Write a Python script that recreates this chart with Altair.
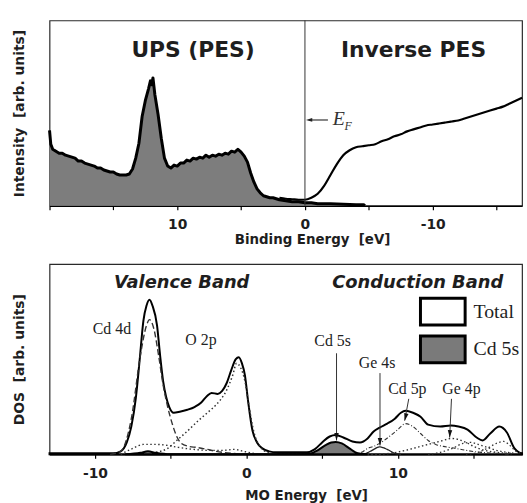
import altair as alt
import pandas as pd

# ---------------- photoemission spectra (binding energy in eV, intensity in arb. units)
ups_be = [20.0, 19.9, 19.75, 19.5, 19.25, 19.0, 18.75, 18.5, 18.25, 18.0, 17.75, 17.5, 17.25,
          17.0, 16.75, 16.5, 16.25, 16.0, 15.75, 15.5, 15.25, 15.0, 14.75, 14.5, 14.25, 14.0,
          13.75, 13.5, 13.25, 13.0, 12.75, 12.5, 12.25, 12.1, 12.0, 11.9, 11.75, 11.5, 11.25,
          11.0, 10.75, 10.5, 10.25, 10.0, 9.75, 9.5, 9.25, 9.0, 8.75, 8.5, 8.25, 8.0, 7.75,
          7.5, 7.25, 7.0, 6.75, 6.5, 6.25, 6.0, 5.75, 5.5, 5.25, 5.0, 4.75, 4.5, 4.25, 4.0,
          3.75, 3.5, 3.25, 3.0, 2.75, 2.5, 2.0, 1.5, 1.0, 0.5, 0.0, -0.5, -1.0, -2.0, -3.0,
          -4.0, -4.6, -4.7]
ups_int = [76, 62, 57, 55, 53, 53, 51, 50, 49, 48, 45, 45, 43, 42, 41, 40, 38, 38, 36, 35, 34,
           34, 32, 31, 31, 31, 32, 37, 48, 63, 90, 106, 118, 126, 122, 129, 112, 92, 68, 48,
           40, 38, 41, 40, 43, 43, 46, 45, 48, 47, 49, 48, 51, 49, 51, 50, 52, 51, 53, 52, 55,
           54, 57, 54, 50, 44, 33, 24, 17, 13, 10, 9, 8, 8, 6, 5, 4, 4, 3, 3, 2, 2, 1.5, 1, 1, 0]

ipes_be = [2.0, 1.5, 1.0, 0.5, 0.0, -0.5, -1.0, -1.5, -2.0, -2.5, -3.0, -3.5, -4.0, -4.5, -5.0,
           -5.5, -6.0, -6.5, -7.0, -7.5, -8.0, -8.5, -9.0, -9.5, -10.0, -10.5, -11.0, -11.5,
           -12.0, -12.5, -13.0, -13.5, -14.0, -14.5, -15.0, -15.5, -16.0, -16.5, -17.0]
ipes_int = [8, 7, 6.5, 6, 6, 8, 12, 20, 31, 42, 51, 56, 59, 60, 61, 62, 65, 67, 70, 72, 75, 77,
            79, 81, 82, 83, 84, 85, 86, 88, 90, 92, 94, 96, 98, 100, 103, 106, 109]

# ---------------- calculated density of states (MO energy in eV)
total_e = [-13.0, -9.5, -8.8, -8.3, -7.9, -7.6, -7.3, -7.05, -6.8, -6.6, -6.4, -6.2, -5.9, -5.7,
           -5.5, -5.3, -5.1, -4.8, -4.4, -3.9, -3.4, -3.0, -2.6, -2.3, -1.9, -1.6, -1.3, -1.0,
           -0.7, -0.5, -0.3, -0.1, 0.1, 0.4, 0.7, 1.05, 1.5, 2.0, 4.0, 4.5, 5.0, 5.5, 5.9, 6.4,
           7.0, 7.5, 8.0, 8.4, 8.8, 9.3, 9.8, 10.2, 10.5, 11.0, 11.5, 12.0, 12.8, 13.5, 14.0,
           14.6, 15.2, 15.6, 16.1, 16.7, 17.2, 17.7, 18.0, 18.2]
total_dos = [1, 1, 1, 3, 12, 28, 57, 95, 135, 150, 156, 150, 130, 100, 74, 58, 48, 42, 43, 45,
             48, 52, 59, 62, 61, 64, 72, 85, 96, 98, 92, 80, 55, 24, 12, 6, 3, 2, 2, 5, 12, 18,
             19.5, 17, 13, 12, 16, 23, 27, 31, 36, 42, 44, 42, 38, 30, 28, 29, 28, 25, 17, 14,
             21, 28, 22, 6, 2, 1]

cd5s_e = [-8.0, -7.0, -6.5, -6.0, -5.0, 3.8, 4.3, 4.7, 5.2, 5.6, 5.9, 6.3, 6.8, 7.2, 7.6, 8.0]
cd5s_dos = [0, 1.5, 3, 1.5, 0, 0, 1, 4, 9, 12, 12.5, 11, 6, 2, 0.5, 0]

cd4d_e = [-9.0, -8.3, -7.6, -7.0, -6.6, -6.4, -6.1, -5.8, -5.5, -5.2, -4.9, -4.6, -4.3, -3.8,
          -3.3, -2.6, -2.0, -1.0, 0.0]
cd4d_dos = [0, 3, 36, 100, 130, 136, 126, 100, 70, 48, 31, 18, 11, 8, 7, 5, 3, 1, 0]

o2p_e = [-7.0, -6.0, -5.2, -4.6, -4.0, -3.1, -2.5, -2.0, -1.3, -0.9, -0.65, -0.4, -0.1, 0.2,
         0.5, 0.9, 1.4, 2.0]
o2p_dos = [0, 2, 6, 14, 22, 35, 43, 50, 65, 80, 92, 88, 74, 46, 22, 8, 2, 0]

ge4s_e = [7.5, 7.9, 8.3, 8.8, 9.3, 9.8, 10.2]
ge4s_dos = [0, 1, 4, 7.5, 5, 1, 0]

cd5p_e = [7.0, 7.6, 8.0, 8.4, 9.0, 9.6, 10.0, 10.5, 11.0, 11.5, 12.0, 12.5, 13.0, 13.8, 14.5,
          15.5, 16.5, 17.5]
cd5p_dos = [0, 2, 6, 8, 13, 20, 25, 31, 28, 21, 14, 10, 8, 6, 4, 2, 1, 0]

ge4p_e = [-8.3, -7.5, -6.8, -6.0, -5.2, -4.5, -3.5, -2.5, -1.5, -0.8, -0.2, 0.5, 1.5, 8.5, 9.5,
          10.5, 11.5, 12.5, 13.0, 13.5, 14.0, 14.5, 15.0, 15.5, 16.5, 17.5]
ge4p_dos = [0, 6, 10, 10, 9, 7, 5, 4, 4, 5, 3, 1, 0, 0, 1, 4, 8, 12, 14, 16, 15, 12, 8, 5, 2, 1]

cb_a_e = [12.0, 12.8, 13.6, 14.3, 14.8, 15.3, 15.9, 16.5, 17.2, 17.8]
cb_a_dos = [0, 2, 6, 11, 12, 10, 7, 4, 2, 1]

cb_b_e = [14.5, 15.3, 15.9, 16.5, 17.0, 17.4, 17.8, 18.2]
cb_b_dos = [0, 2, 6, 11, 13, 9, 3, 1]

# ---------------- axis ticks
be_ticks = [20, 15, 10, 5, 0, -5, -10, -15]
be_labels = [10, 0, -10]
mo_ticks = [-10, -5, 0, 5, 10, 15]
mo_labels = [-10, 0, 10]

SANS = "DejaVu Sans"
SERIF = "Liberation Serif"
INK = "#1e1e1e"
NBSP = "\u00a0"


def label_expr(values):
    parts = [f"datum.value == {v} ? '{v}'" for v in values]
    return " : ".join(parts) + " : ''"


def frame(xs, ys, **extra):
    d = pd.DataFrame({"x": xs, "y": ys})
    for k, v in extra.items():
        d[k] = v
    return d


def x_axis(ticks, labels, title, title_x, title_pad):
    return alt.Axis(values=ticks, labelExpr=label_expr(labels), title=title, titleX=title_x,
                    titleAlign="center", titlePadding=title_pad, grid=False, tickSize=4,
                    tickColor="black", tickWidth=1.2, domainColor="black", domainWidth=1.6,
                    labelFont=SANS, labelFontWeight="bold", labelFontSize=14, labelColor=INK,
                    labelPadding=8, labelFlush=False, titleFont=SANS, titleFontWeight="bold",
                    titleFontSize=13.5, titleColor=INK)


def y_axis(title):
    return alt.Axis(title=title, labels=False, ticks=False, domain=False, grid=False,
                    titleFont=SANS, titleFontWeight="bold", titleFontSize=14, titleColor=INK,
                    titlePadding=23)


# narrow filled arrowhead whose tip sits on the anchor point
ARROW = "M-0.6,-2L0.6,-2L0,0Z"

# ================= upper panel: UPS / inverse PES =================
W = 477
xt = alt.X("x:Q", scale=alt.Scale(domain=[20, -17], nice=False, zero=False),
           axis=x_axis(be_ticks, be_labels, f"Binding Energy{NBSP}{NBSP}[eV]", 265, 1))
yt = alt.Y("y:Q", scale=alt.Scale(domain=[0, 187], nice=False),
           axis=y_axis(f"Intensity{NBSP}{NBSP}[arb. units]"))

ups_df = frame(ups_be, ups_int)
ipes_df = frame(ipes_be, ipes_int)

ups_fill = alt.Chart(ups_df).mark_area(color="#7d7d7d", opacity=1).encode(x=xt, y=yt)
ups_line = alt.Chart(ups_df).mark_line(color="black", strokeWidth=3,
                                       strokeJoin="round").encode(x=xt, y=yt)
ipes_line = alt.Chart(ipes_df).mark_line(color="black", strokeWidth=2.2,
                                         interpolate="monotone").encode(x=xt, y=yt)
fermi = alt.Chart(pd.DataFrame({"x": [0]})).mark_rule(color="#333", strokeWidth=1).encode(x=xt)

top_titles = alt.Chart(frame([8.76, -8.5], [157, 157], t=["UPS (PES)", "Inverse PES"])).mark_text(
    font=SANS, fontWeight="bold", fontSize=22, color=INK, baseline="middle"
).encode(x=xt, y=yt, text="t:N")

ef_arrow = alt.Chart(pd.DataFrame({"x": [-1.8], "y": [86.5], "x2": [-0.3], "y2": [86.5]})).mark_rule(
    color="#222", strokeWidth=1.1).encode(x=xt, y=yt, x2="x2:Q", y2="y2:Q")
ef_head = alt.Chart(frame([-0.08], [86.5], a=[90])).mark_point(
    shape=ARROW, filled=True, size=40, color="#222", opacity=1
).encode(x=xt, y=yt, angle=alt.Angle("a:Q", scale=None))
ef_e = alt.Chart(frame([-2.17], [87], t=["E"])).mark_text(
    font=SERIF, fontStyle="italic", fontSize=20, color="#333", align="left", baseline="middle"
).encode(x=xt, y=yt, text="t:N")
ef_f = alt.Chart(frame([-3.1], [80], t=["F"])).mark_text(
    font=SERIF, fontStyle="italic", fontSize=12, color="#333", align="left", baseline="middle"
).encode(x=xt, y=yt, text="t:N")

top = alt.layer(ups_fill, ups_line, ipes_line, fermi, top_titles, ef_arrow, ef_head, ef_e, ef_f
                ).properties(width=W, height=187)

# ================= lower panel: calculated DOS =================
xb = alt.X("x:Q", scale=alt.Scale(domain=[-13, 18.2], nice=False, zero=False),
           axis=x_axis(mo_ticks, mo_labels, f"MO Energy{NBSP}{NBSP}[eV]", 259, 9))
yb = alt.Y("y:Q", scale=alt.Scale(domain=[0, 192], nice=False),
           axis=y_axis(f"DOS{NBSP}{NBSP}[arb. units]"))

fill_enc = alt.Fill(
    "s:N", scale=alt.Scale(domain=["Total", "Cd 5s"], range=["white", "#7a7a7a"]),
    legend=alt.Legend(title=None, orient="none", legendX=382, legendY=33, padding=0,
                      symbolType="M-1.67,-1H1.67V1H-1.67Z", symbolSize=729,
                      symbolStrokeColor="black", symbolStrokeWidth=3, symbolOpacity=1,
                      rowPadding=-2, labelOffset=16, labelFont=SERIF, labelFontSize=20,
                      labelColor=INK))

total_area = alt.Chart(frame(total_e, total_dos, s="Total")).mark_area(
    stroke="black", strokeWidth=2, interpolate="monotone", opacity=1
).encode(x=xb, y=yb, fill=fill_enc)
cd5s_area = alt.Chart(frame(cd5s_e, cd5s_dos, s="Cd 5s")).mark_area(
    stroke="black", strokeWidth=2, interpolate="monotone", opacity=1
).encode(x=xb, y=yb, fill=fill_enc)


def partial(xs, ys, dash, width=1.2, color="#333"):
    return alt.Chart(frame(xs, ys)).mark_line(
        color=color, strokeWidth=width, strokeDash=dash, interpolate="monotone"
    ).encode(x=xb, y=yb)


DOT = [1.5, 2.5]
parts = [
    partial(cd4d_e, cd4d_dos, [6, 3], 1.4),
    partial(o2p_e, o2p_dos, DOT, 1.5),
    partial(ge4p_e, ge4p_dos, DOT, 1.4),
    partial(cb_a_e, cb_a_dos, DOT, 1.3),
    partial(cb_b_e, cb_b_dos, DOT, 1.3),
    partial(cd5p_e, cd5p_dos, [4, 2, 1, 2], 1.1),
    partial(ge4s_e, ge4s_dos, [1, 0], 1.3, "#222"),
]

band_titles = alt.Chart(frame([-4.27, 11.31], [172.5, 172.5], t=["Valence Band", "Conduction Band"])).mark_text(
    font=SANS, fontWeight="bold", fontStyle="italic", fontSize=18, color=INK, baseline="middle"
).encode(x=xb, y=yb, text="t:N")

orbital_labels = alt.Chart(frame(
    [-8.88, -3.0, 5.69, 8.63, 10.63, 14.2],
    [126, 115, 114, 92, 66, 66],
    t=["Cd 4d", "O 2p", "Cd 5s", "Ge 4s", "Cd 5p", "Ge 4p"],
)).mark_text(font=SERIF, fontSize=16, color="#222", baseline="middle").encode(x=xb, y=yb, text="t:N")

# pointer arrows from the orbital labels down to their peaks
arrow_tail_x = [5.95, 8.82, 10.72, 13.54]
arrow_tail_y = [102, 82, 56, 56]
arrow_tip_x = [5.95, 8.82, 10.45, 13.42]
arrow_tip_y = [14, 9, 34, 17]
arrow_tilt = [0, 0, 13, 3]

arrow_lines = alt.Chart(pd.DataFrame({"x": arrow_tail_x, "y": arrow_tail_y,
                                      "x2": arrow_tip_x, "y2": arrow_tip_y})).mark_rule(
    color="#333", strokeWidth=1).encode(x=xb, y=yb, x2="x2:Q", y2="y2:Q")
arrow_heads = alt.Chart(frame(arrow_tip_x, arrow_tip_y, a=arrow_tilt)).mark_point(
    shape=ARROW, filled=True, size=56, color="#111", opacity=1
).encode(x=xb, y=yb, angle=alt.Angle("a:Q", scale=None))

bottom = alt.layer(total_area, *parts, cd5s_area, band_titles, orbital_labels, arrow_lines,
                   arrow_heads).properties(width=W, height=192)

chart = alt.vconcat(top, bottom, spacing=59, bounds="flush").resolve_legend(
    fill="independent"
).properties(
    padding={"left": 12, "top": 16, "right": 0, "bottom": 49},
    background="white",
).configure_view(stroke="#2a2a2a", strokeWidth=1.2)

chart.save("out.html", embed_options={"renderer": "svg", "actions": False})
